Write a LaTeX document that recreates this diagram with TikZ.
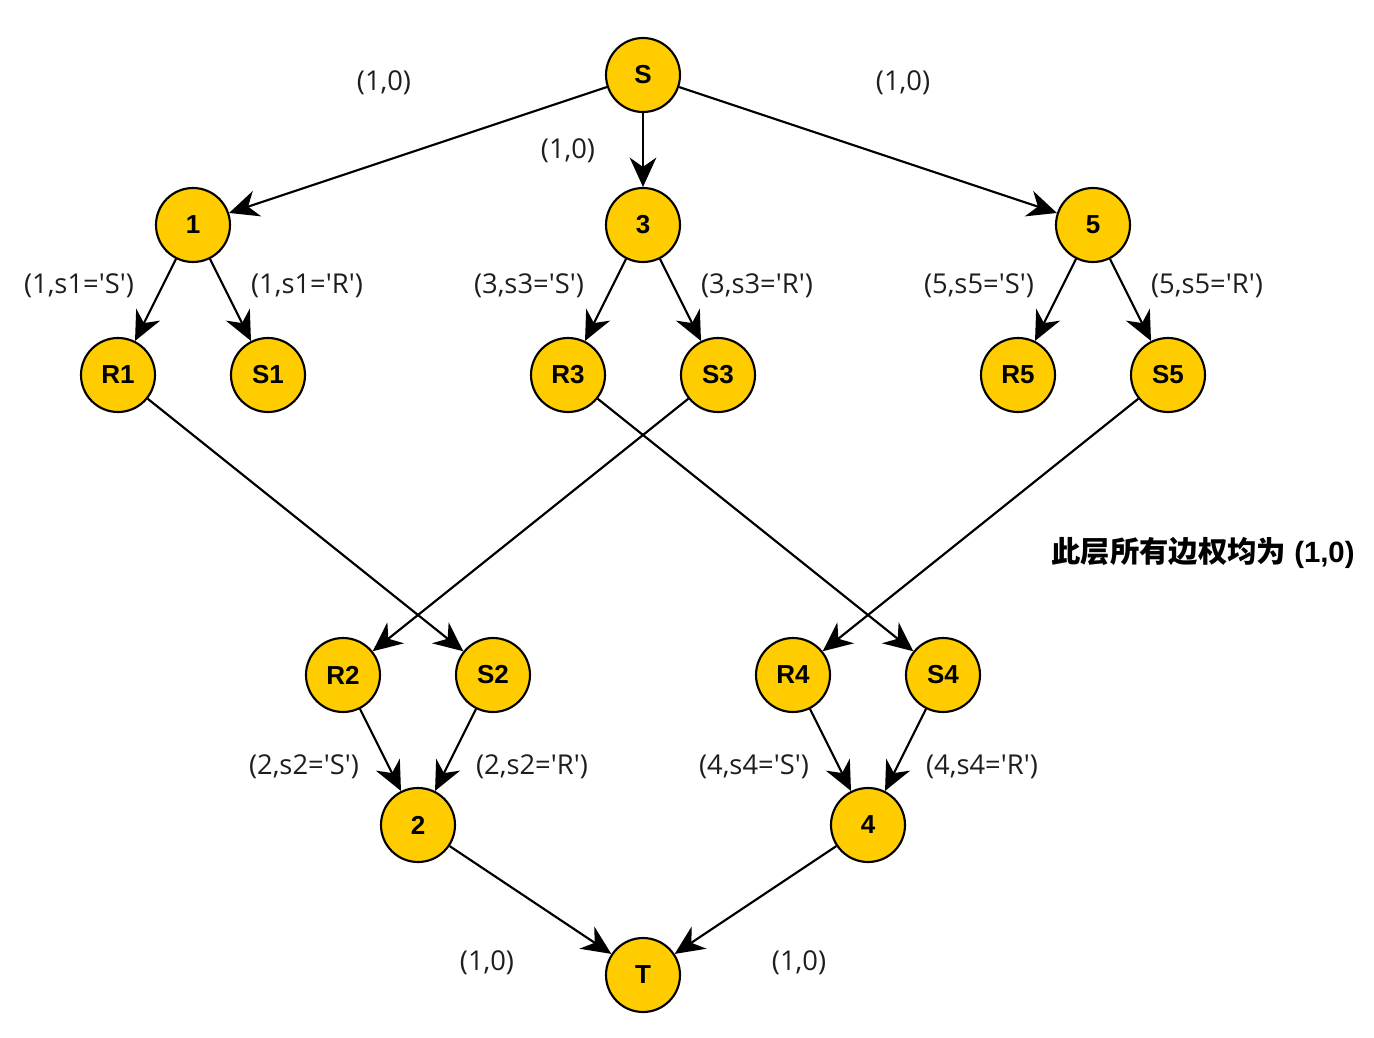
\documentclass[tikz,border=0pt]{standalone}
\usepackage{fontspec}
\setmainfont{Liberation Sans}
\newfontfamily\lblfont{Open Sans}
\newfontfamily\cjk{Noto Sans CJK SC}
\usetikzlibrary{arrows.meta}
\definecolor{nodefill}{RGB}{255,204,0}
\definecolor{lbl}{RGB}{30,30,30}
\begin{document}
\begin{tikzpicture}[x=0.75pt,y=-0.75pt,
  vtx/.style={circle,draw=black,line width=1.6pt,fill=nodefill,minimum size=55.5pt,inner sep=0pt,font=\fontsize{19.5}{23}\selectfont\bfseries},
  edge/.style={line width=1.6pt,-{Stealth[length=22pt,width=20pt,inset=7pt]}},
  elbl/.style={font=\lblfont\fontsize{20.5}{24}\selectfont,text=lbl,inner sep=0pt}]
\useasboundingbox (0,0) rectangle (1374,1038);
% nodes
\node[vtx] (S) at (643,75) {S};
\node[vtx] (n1) at (193,225) {1};
\node[vtx] (n3) at (643,225) {3};
\node[vtx] (n5) at (1093,225) {5};
\node[vtx] (R1) at (118,375) {R1};
\node[vtx] (S1) at (268,375) {S1};
\node[vtx] (R3) at (568,375) {R3};
\node[vtx] (S3) at (718,375) {S3};
\node[vtx] (R5) at (1018,375) {R5};
\node[vtx] (S5) at (1168,375) {S5};
\node[vtx] (R2) at (343,675) {R2};
\node[vtx] (S2) at (493,675) {S2};
\node[vtx] (R4) at (793,675) {R4};
\node[vtx] (S4) at (943,675) {S4};
\node[vtx] (n2) at (418,825) {2};
\node[vtx] (n4) at (868,825) {4};
\node[vtx] (T) at (643,975) {T};
% edges
\draw[edge] (S) -- (n1);
\draw[edge] (S) -- (n3);
\draw[edge] (S) -- (n5);
\draw[edge] (n1) -- (R1);
\draw[edge] (n1) -- (S1);
\draw[edge] (n3) -- (R3);
\draw[edge] (n3) -- (S3);
\draw[edge] (n5) -- (R5);
\draw[edge] (n5) -- (S5);
\draw[edge] (R1) -- (S2);
\draw[edge] (S3) -- (R2);
\draw[edge] (R3) -- (S4);
\draw[edge] (S5) -- (R4);
\draw[edge] (R2) -- (n2);
\draw[edge] (S2) -- (n2);
\draw[edge] (R4) -- (n4);
\draw[edge] (S4) -- (n4);
\draw[edge] (n2) -- (T);
\draw[edge] (n4) -- (T);
% labels
\node[elbl] (l1) at (384,83) {(1,0)};
\node[elbl] (l2) at (568,151) {(1,0)};
\node[elbl] (l3) at (903,83) {(1,0)};
\node[elbl] (l4) at (79,286) {(1,s1='S')};
\node[elbl] (l5) at (307,286) {(1,s1='R')};
\node[elbl] (l6) at (529,286) {(3,s3='S')};
\node[elbl] (l7) at (757,286) {(3,s3='R')};
\node[elbl] (l8) at (979,286) {(5,s5='S')};
\node[elbl] (l9) at (1207,286) {(5,s5='R')};
\node[elbl] (l10) at (304,767) {(2,s2='S')};
\node[elbl] (l11) at (532,767) {(2,s2='R')};
\node[elbl] (l12) at (754,767) {(4,s4='S')};
\node[elbl] (l13) at (982,767) {(4,s4='R')};
\node[elbl] (l14) at (487,963) {(1,0)};
\node[elbl] (l15) at (799,963) {(1,0)};
\node[inner sep=0pt,font=\fontsize{22}{26}\selectfont\bfseries] (note) at (1203,553) {{\cjk\bfseries 此层所有边权均为} (1,0)};
\end{tikzpicture}
\end{document}
